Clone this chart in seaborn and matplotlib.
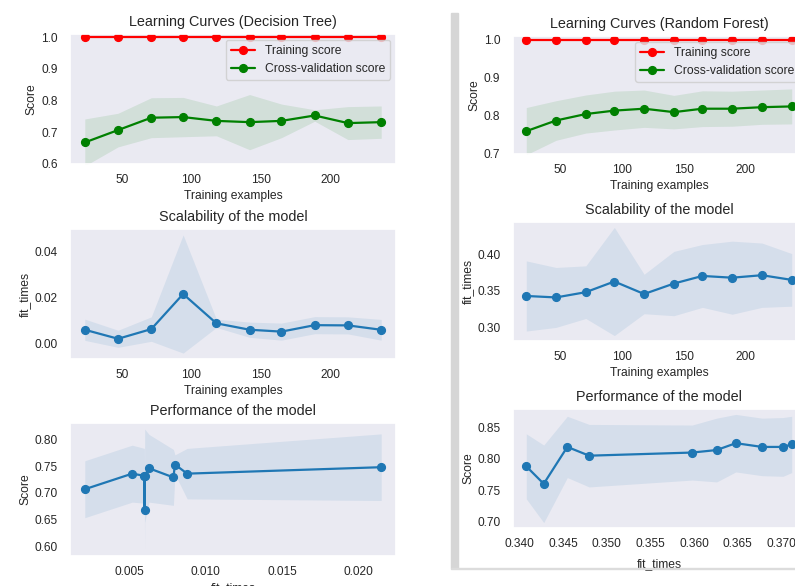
import matplotlib
matplotlib.use("Agg")
import matplotlib.pyplot as plt
from matplotlib.patches import Rectangle
from matplotlib.ticker import MultipleLocator
import numpy as np
import seaborn as sns

# Training set sizes used for every learning curve
train_sizes = [23, 47, 71, 94, 118, 142, 165, 189, 213, 237]

# Decision tree results (mean / std over CV folds)
dt_train_mean = [1.0, 1.0, 1.0, 1.0, 1.0, 1.0, 1.0, 1.0, 1.0, 1.0]
dt_train_std = [0.0, 0.0, 0.0, 0.0, 0.0, 0.0, 0.0, 0.0, 0.0, 0.0]
dt_test_mean = [0.668, 0.707, 0.746, 0.748, 0.736, 0.732, 0.736, 0.753, 0.729, 0.732]
dt_test_std = [0.074, 0.053, 0.063, 0.062, 0.047, 0.087, 0.053, 0.018, 0.052, 0.051]
dt_fit_mean = [0.00601, 0.0021, 0.0063, 0.0215, 0.0088, 0.00602, 0.0052, 0.0080, 0.0079, 0.0060]
dt_fit_std = [0.0046, 0.0037, 0.0053, 0.0256, 0.0018, 0.0033, 0.0037, 0.0037, 0.0037, 0.0045]

# Random forest results
rf_train_mean = [1.0, 1.0, 1.0, 1.0, 1.0, 1.0, 1.0, 1.0, 1.0, 1.0]
rf_train_std = [0.0, 0.0, 0.0, 0.0, 0.0, 0.0, 0.0, 0.0, 0.0, 0.0]
rf_test_mean = [0.760, 0.788, 0.805, 0.814, 0.819, 0.810, 0.819, 0.819, 0.823, 0.825]
rf_test_std = [0.062, 0.052, 0.050, 0.051, 0.049, 0.044, 0.047, 0.046, 0.045, 0.046]
rf_fit_mean = [0.3428, 0.3408, 0.3480, 0.3626, 0.3455, 0.3598, 0.3702, 0.3678, 0.3712, 0.3648]
rf_fit_std = [0.048, 0.041, 0.036, 0.074, 0.027, 0.044, 0.043, 0.050, 0.044, 0.036]

sns.set_theme(style="dark")
plt.rcParams["font.family"] = ["Liberation Sans", "DejaVu Sans"]
plt.rcParams["axes.titlesize"] = 10.4
plt.rcParams["axes.labelsize"] = 8.7
plt.rcParams["xtick.labelsize"] = 8.6
plt.rcParams["ytick.labelsize"] = 8.6
plt.rcParams["legend.fontsize"] = 8.7
plt.rcParams["xtick.major.pad"] = 1.5
plt.rcParams["ytick.major.pad"] = 3
plt.rcParams["axes.labelpad"] = 2.5

W, H = 795, 586
fig = plt.figure(figsize=(W / 100, H / 100), dpi=100)


def box(x0, y0, x1, y1):
    return [x0 / W, 1 - y1 / H, (x1 - x0) / W, (y1 - y0) / H]


RED = "#ff0000"
GREEN = "#008000"
BLUE = "#1f77b4"


def line(ax, x, y, color, label=None):
    sns.lineplot(x=x, y=y, ax=ax, color=color, marker="o", markersize=5.6,
                 markeredgecolor=color, markeredgewidth=1, linewidth=1.6,
                 estimator=None, errorbar=None, sort=True, label=label,
                 legend=False)


def learning_panel(ax, title, ylim, tr_m, tr_s, te_m, te_s):
    tr_m, tr_s = np.array(tr_m), np.array(tr_s)
    te_m, te_s = np.array(te_m), np.array(te_s)
    ax.fill_between(train_sizes, tr_m - tr_s, tr_m + tr_s, alpha=0.1, color=RED, lw=0)
    ax.fill_between(train_sizes, te_m - te_s, te_m + te_s, alpha=0.1, color=GREEN, lw=0)
    line(ax, train_sizes, tr_m, RED, "Training score")
    line(ax, train_sizes, te_m, GREEN, "Cross-validation score")
    ax.set_ylim(*ylim)
    ax.set_title(title)
    ax.set_xlabel("Training examples")
    ax.set_ylabel("Score")
    ax.legend(loc="upper right")


def scalability_panel(ax, fit_m, fit_s):
    fit_m, fit_s = np.array(fit_m), np.array(fit_s)
    ax.fill_between(train_sizes, fit_m - fit_s, fit_m + fit_s, alpha=0.1, color=BLUE, lw=0)
    line(ax, train_sizes, fit_m, BLUE)
    ax.set_title("Scalability of the model")
    ax.set_xlabel("Training examples")
    ax.set_ylabel("fit_times")


def performance_panel(ax, fit_m, te_m, te_s, xpad=2.5):
    fit_m, te_m, te_s = np.array(fit_m), np.array(te_m), np.array(te_s)
    order = fit_m.argsort()
    ax.fill_between(fit_m[order], (te_m - te_s)[order], (te_m + te_s)[order],
                    alpha=0.1, color=BLUE, lw=0)
    line(ax, fit_m[order], te_m[order], BLUE)
    ax.set_title("Performance of the model")
    ax.set_xlabel("fit_times", labelpad=xpad)
    ax.set_ylabel("Score")


# Decision tree column
ax = fig.add_axes(box(70, 34, 396, 164))
learning_panel(ax, "Learning Curves (Decision Tree)", (0.6, 1.01),
               dt_train_mean, dt_train_std, dt_test_mean, dt_test_std)
ax = fig.add_axes(box(70, 229, 396, 359))
scalability_panel(ax, dt_fit_mean, dt_fit_std)
ax = fig.add_axes(box(70, 423, 396, 556))
performance_panel(ax, dt_fit_mean, dt_test_mean, dt_test_std)
ax.xaxis.set_major_locator(MultipleLocator(0.005))

# Random forest column
ax = fig.add_axes(box(513, 36, 805, 154))
learning_panel(ax, "Learning Curves (Random Forest)", (0.7, 1.01),
               rf_train_mean, rf_train_std, rf_test_mean, rf_test_std)
ax = fig.add_axes(box(513, 222, 805, 341))
scalability_panel(ax, rf_fit_mean, rf_fit_std)
ax = fig.add_axes(box(513, 409, 805, 528))
performance_panel(ax, rf_fit_mean, rf_test_mean, rf_test_std, xpad=5.5)

# Panel divider between the two model columns
fig.patches.append(Rectangle((451 / W, 1 - 568 / H), 6.5 / W, (568 - 13) / H,
                             transform=fig.transFigure, color="#d6d6d6", zorder=0))
fig.patches.append(Rectangle((451 / W, 1 - 569 / H), (W - 451) / W, 1.5 / H,
                             transform=fig.transFigure, color="#dcdcdc", zorder=0))

fig.savefig("out.png", dpi=100)
